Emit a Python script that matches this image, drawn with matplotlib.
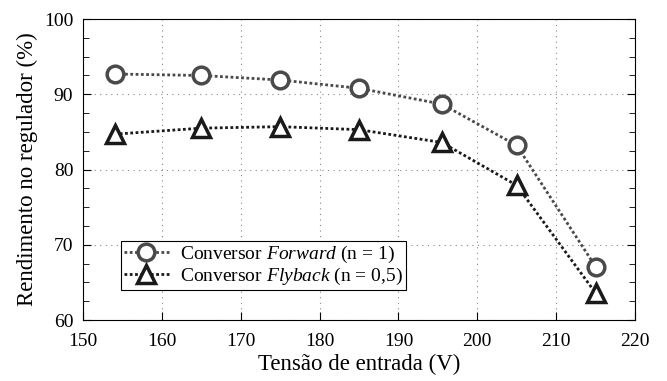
import matplotlib.pyplot as plt
from matplotlib.ticker import MultipleLocator

plt.rcParams['font.family'] = ['Liberation Serif', 'DejaVu Serif']
plt.rcParams['mathtext.fontset'] = 'custom'
plt.rcParams['mathtext.it'] = 'Liberation Serif:italic'
plt.rcParams['mathtext.rm'] = 'Liberation Serif'

# dados
tensao = [154, 165, 175, 185, 195.5, 205, 215]
forward = [92.7, 92.5, 91.9, 90.8, 88.7, 83.2, 67.1]
flyback = [84.7, 85.5, 85.7, 85.3, 83.6, 77.9, 63.6]

fig = plt.figure(figsize=(6.67, 3.81), dpi=100)
ax = fig.add_axes([0.1244, 0.160, 0.8276, 0.790])

ax.plot(tensao, forward, linestyle=(0, (1, 0.9)), linewidth=2.0, color='#4a4a4a',
        marker='o', markersize=12, markerfacecolor='white',
        markeredgecolor='#4a4a4a', markeredgewidth=2.5,
        label=r'Conversor $\it{Forward}$ (n = 1)')
ax.plot(tensao, flyback, linestyle=(0, (1, 0.9)), linewidth=2.0, color='#1a1a1a',
        marker='^', markersize=13, markerfacecolor='white',
        markeredgecolor='#1a1a1a', markeredgewidth=2.5,
        label=r'Conversor $\it{Flyback}$ (n = 0,5)')

ax.set_xlim(150, 220)
ax.set_ylim(60, 100)
ax.xaxis.set_major_locator(MultipleLocator(10))
ax.yaxis.set_major_locator(MultipleLocator(10))
ax.yaxis.set_minor_locator(MultipleLocator(2.5))
ax.tick_params(which='both', direction='in', labelsize=14, right=True, top=False)
ax.tick_params(axis='x', pad=9)
ax.tick_params(axis='y', pad=7)
ax.tick_params(which='major', length=6)
ax.tick_params(which='minor', length=4)
ax.grid(True, linestyle=(0, (1, 4)), color='#888888', linewidth=0.8)

ax.set_xlabel('Tensão de entrada (V)', fontsize=16.5, labelpad=3)
ax.set_ylabel('Rendimento no regulador (%)', fontsize=16.5, labelpad=4)

leg = ax.legend(loc='lower left', bbox_to_anchor=(0.069, 0.1), borderaxespad=0,
                fontsize=14, fancybox=False, framealpha=1, edgecolor='black',
                handlelength=2.3, handletextpad=0.6, borderpad=0.15,
                labelspacing=0.05)
leg.get_frame().set_linewidth(0.8)

fig.savefig('out.png', dpi=100)
